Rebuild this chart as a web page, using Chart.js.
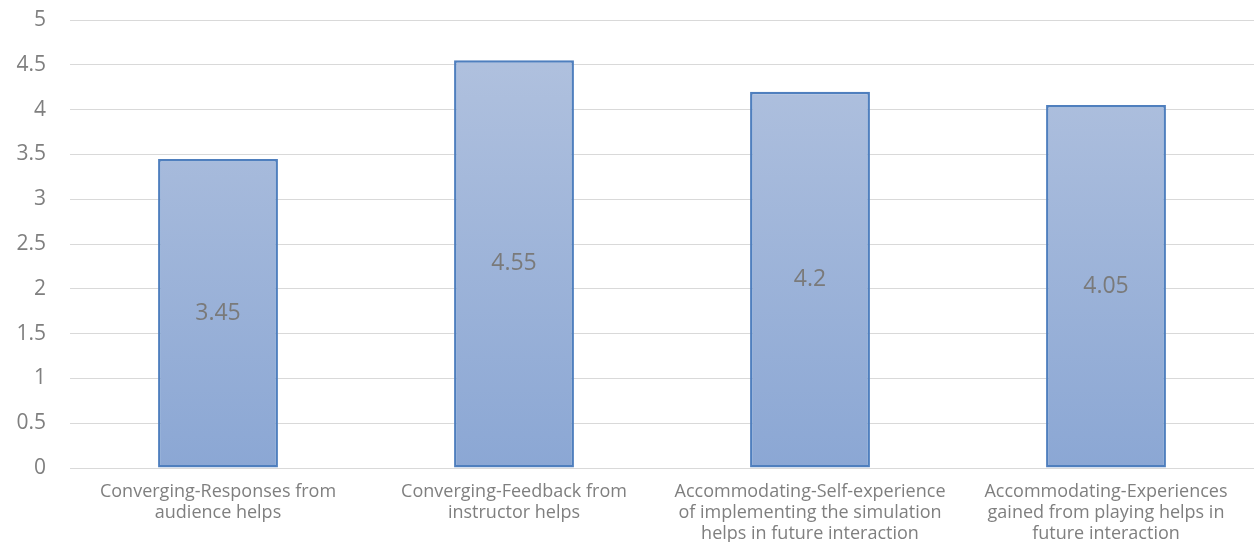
<!DOCTYPE html>
<html>
<head>
<meta charset="utf-8">
<script src="https://cdn.jsdelivr.net/npm/chart.js@4"></script>
<style>
  html, body { margin: 0; padding: 0; background: #ffffff; }
  #wrap { width: 1254px; height: 542px; }
</style>
</head>
<body>
<div id="wrap"><canvas id="scoreChart"></canvas></div>
<script>
const CATEGORIES = [
  ["Converging-Responses from", "audience helps"],
  ["Converging-Feedback from", "instructor helps"],
  ["Accommodating-Self-experience", "of implementing the simulation", "helps in future interaction"],
  ["Accommodating-Experiences", "gained from playing helps in", "future interaction"],
];
const SCORES = [3.45, 4.55, 4.2, 4.05];
const Y_MIN = 0;
const Y_MAX = 5;
const Y_STEP = 0.5;

const FONT = "'Open Sans', 'Liberation Sans', sans-serif";

function barGradient(context) {
  const chart = context.chart;
  const area = chart.chartArea;
  if (!area) return "#9fb4da";
  const g = chart.ctx.createLinearGradient(0, area.top, 0, area.bottom);
  g.addColorStop(0, "#b3c3df");
  g.addColorStop(1, "#8ba7d4");
  return g;
}

// value written at the middle of each bar
const centerLabels = {
  id: "centerLabels",
  afterDatasetsDraw(chart) {
    const ctx = chart.ctx;
    const meta = chart.getDatasetMeta(0);
    ctx.save();
    ctx.font = `23px ${FONT}`;
    ctx.fillStyle = "#7a7a7a";
    ctx.textAlign = "center";
    ctx.textBaseline = "middle";
    meta.data.forEach((bar, i) => {
      const y = (bar.y + bar.base) / 2;
      ctx.fillText(String(SCORES[i]), bar.x, y);
    });
    ctx.restore();
  },
};

new Chart(document.getElementById("scoreChart"), {
  type: "bar",
  data: {
    labels: CATEGORIES,
    datasets: [
      {
        data: SCORES,
        backgroundColor: barGradient,
        borderColor: "#4f7fbe",
        borderWidth: 2.5,
        borderSkipped: false,
        barPercentage: 1,
        categoryPercentage: 0.405,
      },
    ],
  },
  options: {
    responsive: true,
    maintainAspectRatio: false,
    animation: false,
    layout: { padding: { left: 0, right: 0, top: 20, bottom: 0 } },
    plugins: {
      legend: { display: false },
      tooltip: { enabled: false },
    },
    scales: {
      x: {
        grid: { display: false, drawTicks: false },
        border: { display: false },
        ticks: {
          color: "#7f7f7f",
          font: { family: FONT, size: 18, lineHeight: "21px" },
          padding: 13,
          maxRotation: 0,
          autoSkip: false,
        },
        // last label line runs to the bottom edge
        afterFit: (scale) => {
          scale.height = 74;
        },
      },
      y: {
        min: Y_MIN,
        max: Y_MAX,
        border: { display: false },
        grid: { color: "#d9d9d9", lineWidth: 1, drawTicks: false },
        ticks: {
          stepSize: Y_STEP,
          color: "#7f7f7f",
          font: { family: FONT, size: 21 },
          padding: 24,
          callback: (v) => String(v),
        },
        // fixed axis width; keep the tick gap from pushing the plot top down
        afterFit: (scale) => {
          scale.width = 70;
          scale.paddingTop = 12;
          scale.paddingBottom = 12;
        },
      },
    },
  },
  plugins: [centerLabels],
});
</script>
</body>
</html>
